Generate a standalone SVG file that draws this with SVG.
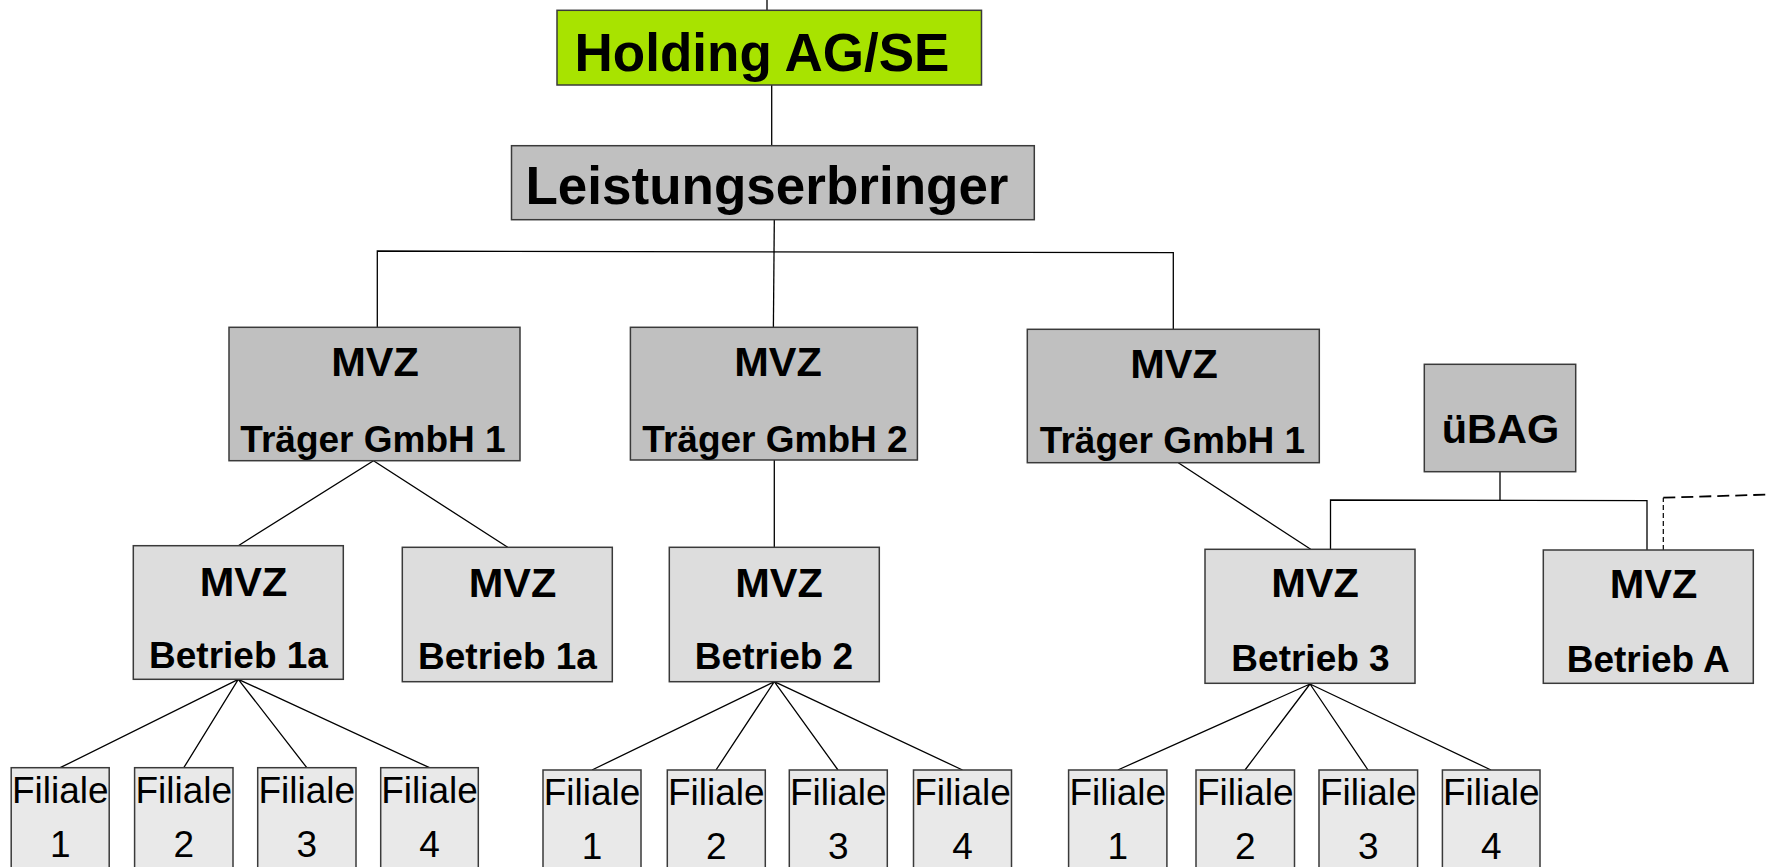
<svg xmlns="http://www.w3.org/2000/svg" width="1770" height="867" viewBox="0 0 1770 867">
<style>
.box{stroke:#3a3a3a;stroke-width:1.5}
.holding{fill:#a8e300}
.dark{fill:#c0c0c0}
.mid{fill:#dddddd}
.light{fill:#e9e9e9}
text{font-family:"Liberation Sans",Arial,sans-serif;fill:#000;text-anchor:middle}
.big{font-size:53px;font-weight:bold}
.mvz{font-size:41.5px;font-weight:bold}
.sub{font-size:37px;font-weight:bold}
.fil{font-size:37px}
#connectors path{fill:none;stroke:#000;stroke-width:1.3}
#connectors .dash1{stroke-dasharray:5 3;stroke-width:1.2}
#connectors .dash2{stroke-dasharray:12 6;stroke-width:1.8}
</style>
<rect width="1770" height="867" style="fill:#fff;stroke:none"/>
<g id="connectors">
<path d="M767 0V10"/>
<path d="M771.7 85V145.7"/>
<path d="M774.3 220L773.4 327"/>
<path d="M377.3 327.3V251L1173.3 252.7V329.3"/>
<path d="M238.3 545.7L373.5 460.7L507.7 547.3"/>
<path d="M774.3 460V547.3"/>
<path d="M1178.3 462.7L1310.7 549.3"/>
<path d="M1500 471.7V500.3"/>
<path d="M1330.5 549.3V500L1647 500.7V550"/>
<path class="dash1" d="M1663.3 550V497.7"/>
<path class="dash2" d="M1663.3 497.7L1770 494.5"/>
<path d="M60.2 767.7L238.3 679.3L183.8 767.7M238.3 679.3L306.8 767.7M238.3 679.3L429.5 767.7"/>
<path d="M592 770L774.3 681.7L716 770M774.3 681.7L838 770M774.3 681.7L962.5 770"/>
<path d="M1117.8 770L1310 684L1245 770M1310 684L1368 770M1310 684L1491 770"/>
</g>
<g id="holding"><rect class="box holding" x="557" y="10.3" width="424.5" height="74.7"/><text class="big" x="762" y="71">Holding AG/SE</text></g>
<g id="leistungserbringer"><rect class="box dark" x="511.5" y="145.7" width="522.8" height="74"/><text class="big" x="767" y="204">Leistungserbringer</text></g>
<g id="traeger1"><rect class="box dark" x="229" y="327.3" width="291" height="133.4"/><text class="mvz" x="375" y="376">MVZ</text><text class="sub" x="373" y="451.7">Träger GmbH 1</text></g>
<g id="traeger2"><rect class="box dark" x="630.4" y="327.3" width="287" height="132.7"/><text class="mvz" x="778" y="376">MVZ</text><text class="sub" x="775" y="451.7">Träger GmbH 2</text></g>
<g id="traeger1b"><rect class="box dark" x="1027.3" y="329.3" width="292" height="133.4"/><text class="mvz" x="1174" y="377.7">MVZ</text><text class="sub" x="1172.5" y="452.5">Träger GmbH 1</text></g>
<g id="ubag"><rect class="box dark" x="1424.3" y="364.3" width="151.4" height="107.4"/><text class="mvz" x="1500.5" y="443">üBAG</text></g>
<g id="betrieb1a"><rect class="box mid" x="133.3" y="545.7" width="210" height="133.6"/><text class="mvz" x="243.5" y="595.5">MVZ</text><text class="sub" x="238.5" y="668.3">Betrieb 1a</text></g>
<g id="betrieb1a-b"><rect class="box mid" x="402.3" y="547.3" width="210" height="134.4"/><text class="mvz" x="512.5" y="596.7">MVZ</text><text class="sub" x="507.5" y="669.3">Betrieb 1a</text></g>
<g id="betrieb2"><rect class="box mid" x="669.3" y="547.3" width="210" height="134.4"/><text class="mvz" x="779" y="596.7">MVZ</text><text class="sub" x="774" y="669.3">Betrieb 2</text></g>
<g id="betrieb3"><rect class="box mid" x="1205" y="549.3" width="210" height="134"/><text class="mvz" x="1315" y="597">MVZ</text><text class="sub" x="1310.5" y="671">Betrieb 3</text></g>
<g id="betriebA"><rect class="box mid" x="1543.3" y="550" width="210" height="133.3"/><text class="mvz" x="1653.5" y="598.3">MVZ</text><text class="sub" x="1648.3" y="671.7">Betrieb A</text></g>
<g id="f1-1"><rect class="box light" x="11.2" y="767.7" width="98" height="120"/><text class="fil" x="60.2" y="803.3">Filiale</text><text class="fil" x="60.2" y="856.7">1</text></g>
<g id="f1-2"><rect class="box light" x="134.6" y="767.7" width="98.4" height="120"/><text class="fil" x="183.8" y="803.3">Filiale</text><text class="fil" x="183.8" y="856.7">2</text></g>
<g id="f1-3"><rect class="box light" x="257.7" y="767.7" width="98.3" height="120"/><text class="fil" x="306.8" y="803.3">Filiale</text><text class="fil" x="306.8" y="856.7">3</text></g>
<g id="f1-4"><rect class="box light" x="380.7" y="767.7" width="97.6" height="120"/><text class="fil" x="429.5" y="803.3">Filiale</text><text class="fil" x="429.5" y="856.7">4</text></g>
<g id="f2-1"><rect class="box light" x="543" y="770" width="98" height="120"/><text class="fil" x="592" y="805.3">Filiale</text><text class="fil" x="592" y="858.7">1</text></g>
<g id="f2-2"><rect class="box light" x="667.3" y="770" width="98" height="120"/><text class="fil" x="716.3" y="805.3">Filiale</text><text class="fil" x="716.3" y="858.7">2</text></g>
<g id="f2-3"><rect class="box light" x="789.3" y="770" width="98" height="120"/><text class="fil" x="838.3" y="805.3">Filiale</text><text class="fil" x="838.3" y="858.7">3</text></g>
<g id="f2-4"><rect class="box light" x="913.5" y="770" width="98" height="120"/><text class="fil" x="962.5" y="805.3">Filiale</text><text class="fil" x="962.5" y="858.7">4</text></g>
<g id="f3-1"><rect class="box light" x="1068.6" y="770" width="98.3" height="120"/><text class="fil" x="1117.8" y="805.3">Filiale</text><text class="fil" x="1117.8" y="858.7">1</text></g>
<g id="f3-2"><rect class="box light" x="1196" y="770" width="98.5" height="120"/><text class="fil" x="1245.2" y="805.3">Filiale</text><text class="fil" x="1245.2" y="858.7">2</text></g>
<g id="f3-3"><rect class="box light" x="1319" y="770" width="98.6" height="120"/><text class="fil" x="1368.3" y="805.3">Filiale</text><text class="fil" x="1368.3" y="858.7">3</text></g>
<g id="f3-4"><rect class="box light" x="1442.4" y="770" width="97.6" height="120"/><text class="fil" x="1491.2" y="805.3">Filiale</text><text class="fil" x="1491.2" y="858.7">4</text></g>
</svg>
